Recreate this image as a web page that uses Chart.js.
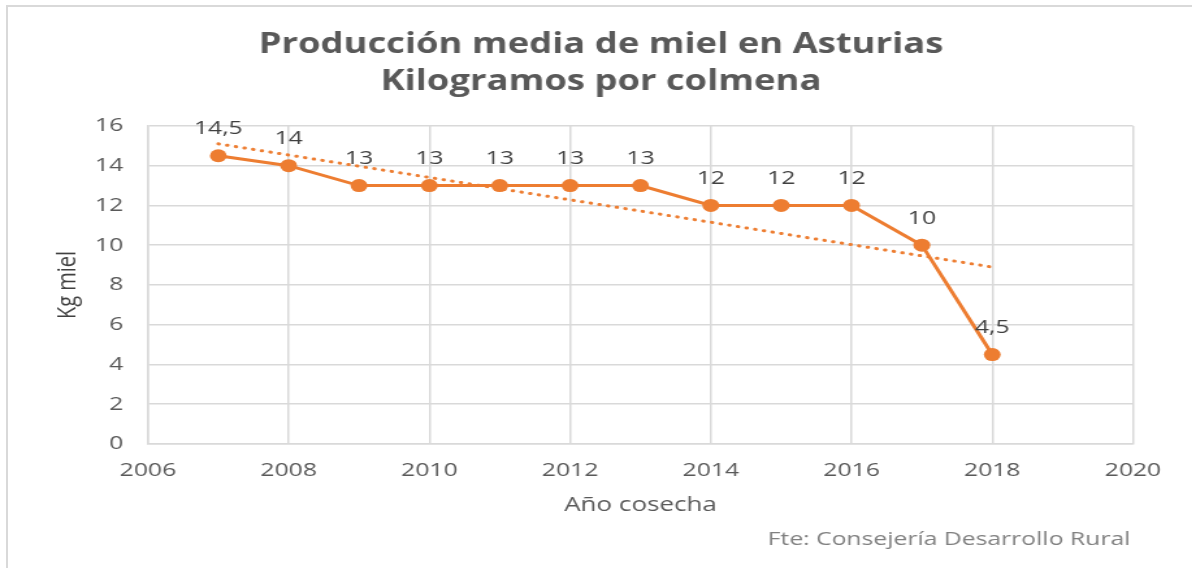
<!DOCTYPE html>
<html>
<head>
<meta charset="utf-8">
<script src="https://cdn.jsdelivr.net/npm/chart.js@4.4.1/dist/chart.umd.min.js"></script>
<style>
  html, body { margin: 0; padding: 0; background: #fff; overflow: hidden; }
  #frame { position: absolute; left: 6px; top: 5px; width: 1300px; height: 700px; border: 2px solid #d9d9d9; }
  /* the original picture is stretched sideways, so draw narrow and stretch */
  #wrap { position: absolute; left: 0; top: 0; width: 917px; height: 568px; transform: scaleX(1.3); transform-origin: 0 0; }
</style>
</head>
<body>
<div id="frame"></div>
<div id="wrap"><canvas id="miel"></canvas></div>
<script>
const years = [2007, 2008, 2009, 2010, 2011, 2012, 2013, 2014, 2015, 2016, 2017, 2018];
const kgMiel = [14.5, 14, 13, 13, 13, 13, 13, 12, 12, 12, 10, 4.5];
// dotted trend line, ends
const trendYears = [2007, 2018];
const trendKg = [15.1, 8.9];
const titleLines = ['Producción media de miel en Asturias', 'Kilogramos por colmena'];
const fuente = 'Fte: Consejería Desarrollo Rural';

const orange = '#ed7d31';
const gridGray = '#d9d9d9';
const font = "'Open Sans', sans-serif";

function toPoints(xs, ys) {
    return xs.map(function(x, i) { return {x: x, y: ys[i]}; });
}

// value labels above each point
const pointLabels = {
    id: 'pointLabels',
    afterDatasetsDraw(chart) {
        const ctx = chart.ctx;
        const meta = chart.getDatasetMeta(1);
        ctx.save();
        ctx.font = '19px ' + font;
        ctx.fillStyle = '#404040';
        ctx.textAlign = 'center';
        ctx.textBaseline = 'middle';
        meta.data.forEach(function(pt, i) {
            ctx.fillText(String(kgMiel[i]).replace('.', ','), pt.x, pt.y - 27);
        });
        ctx.restore();
    }
};

const footNote = {
    id: 'footNote',
    afterDraw(chart) {
        const ctx = chart.ctx;
        ctx.save();
        ctx.font = '19px ' + font;
        ctx.fillStyle = '#808080';
        ctx.textAlign = 'right';
        ctx.textBaseline = 'middle';
        ctx.fillText(fuente, chart.chartArea.right - 2, 540);
        ctx.restore();
    }
};

new Chart(document.getElementById('miel'), {
    type: 'line',
    data: {
        datasets: [{
            label: 'tendencia',
            data: toPoints(trendYears, trendKg),
            borderColor: orange,
            borderWidth: 3,
            borderDash: [0.5, 6.3],
            borderCapStyle: 'round',
            pointRadius: 0,
            fill: false
        }, {
            label: 'Kg miel',
            data: toPoints(years, kgMiel),
            borderColor: orange,
            backgroundColor: orange,
            borderWidth: 3,
            pointRadius: 6.5,
            pointBorderWidth: 0,
            fill: false
        }]
    },
    plugins: [pointLabels, footNote],
    options: {
        responsive: true,
        maintainAspectRatio: false,
        animation: false,
        layout: { padding: { left: 53, right: 45.5, top: 0, bottom: 43 } },
        plugins: {
            legend: { display: false },
            tooltip: { enabled: false },
            title: {
                display: true,
                text: titleLines,
                color: '#595959',
                font: { family: font, size: 28, weight: 'bold', lineHeight: 1.32 },
                padding: { top: 26.5, bottom: 25.5 }
            }
        },
        scales: {
            x: {
                type: 'linear',
                min: 2006,
                max: 2020,
                afterFit(scale) { scale.height = 81; },
                ticks: {
                    stepSize: 2,
                    padding: 15,
                    color: '#595959',
                    font: { family: font, size: 19 },
                    callback: function(v) { return String(v); }
                },
                grid: { color: gridGray, lineWidth: 1.5, drawTicks: false },
                border: { color: gridGray, width: 1.5 },
                title: {
                    display: true,
                    text: 'Año cosecha',
                    color: '#595959',
                    font: { family: font, size: 20 },
                    padding: { top: 0, bottom: 8 }
                }
            },
            y: {
                min: 0,
                max: 16,
                afterFit(scale) { scale.width = 60.8; },
                ticks: {
                    stepSize: 2,
                    padding: 19,
                    color: '#595959',
                    font: { family: font, size: 19 }
                },
                grid: { color: gridGray, lineWidth: 1.5, drawTicks: false },
                border: { color: gridGray, width: 1.5 },
                title: {
                    display: true,
                    text: 'Kg miel',
                    color: '#404040',
                    font: { family: font, size: 20 },
                    // pulled left, past the layout padding
                    padding: { top: -12.7, bottom: 0 }
                }
            }
        }
    }
});
</script>
</body>
</html>
